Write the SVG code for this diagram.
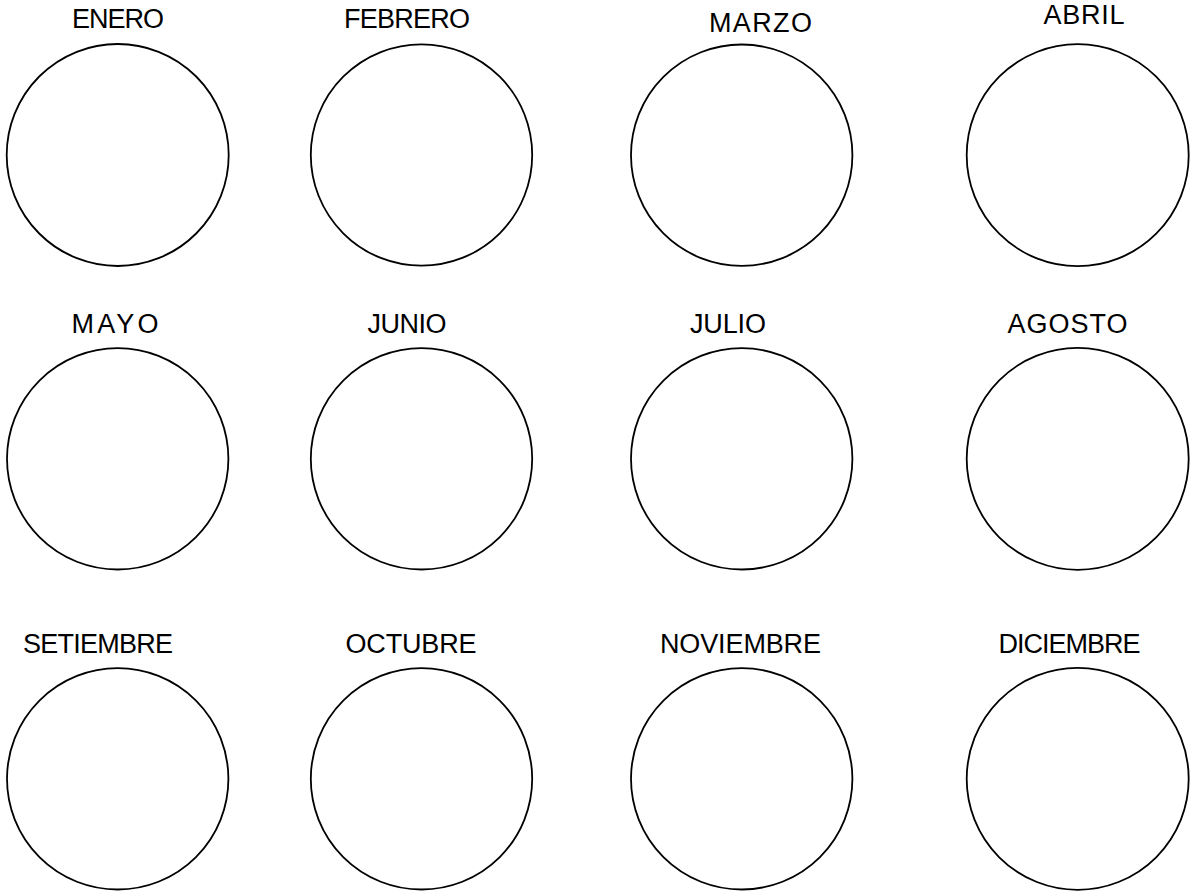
<svg xmlns="http://www.w3.org/2000/svg" width="1190" height="896" viewBox="0 0 1190 896">
<style>
.c{fill:#fff;stroke:#000;stroke-width:1.8}
.t{font-family:"Liberation Sans",Arial,sans-serif;font-size:27px;fill:#000}
</style>
<rect width="1190" height="896" fill="#fff"/>
<g id="enero"><circle class="c" cx="117.7" cy="155" r="111"/><text class="t" x="72" y="28.3" textLength="92" lengthAdjust="spacing">ENERO</text></g>
<g id="febrero"><circle class="c" cx="421.5" cy="155" r="110.7"/><text class="t" x="344" y="28.3" textLength="126" lengthAdjust="spacing">FEBRERO</text></g>
<g id="marzo"><circle class="c" cx="741.7" cy="155.2" r="110.7"/><text class="t" x="709" y="32.3" textLength="103" lengthAdjust="spacing">MARZO</text></g>
<g id="abril"><circle class="c" cx="1077.7" cy="155.2" r="111"/><text class="t" x="1043.5" y="24" textLength="81" lengthAdjust="spacing">ABRIL</text></g>
<g id="mayo"><circle class="c" cx="117.7" cy="458.8" r="110.7"/><text class="t" x="71.5" y="333.3" textLength="87" lengthAdjust="spacing">MAYO</text></g>
<g id="junio"><circle class="c" cx="421.5" cy="458.8" r="110.7"/><text class="t" x="367.5" y="332.5" textLength="79" lengthAdjust="spacing">JUNIO</text></g>
<g id="julio"><circle class="c" cx="741.7" cy="458.8" r="110.7"/><text class="t" x="690" y="332.5" textLength="76" lengthAdjust="spacing">JULIO</text></g>
<g id="agosto"><circle class="c" cx="1077.7" cy="458.8" r="111"/><text class="t" x="1007.5" y="333.3" textLength="120" lengthAdjust="spacing">AGOSTO</text></g>
<g id="setiembre"><circle class="c" cx="117.7" cy="778.8" r="110.7"/><text class="t" x="23" y="653.3" textLength="150" lengthAdjust="spacing">SETIEMBRE</text></g>
<g id="octubre"><circle class="c" cx="421.5" cy="778.8" r="110.7"/><text class="t" x="345.5" y="653.3" textLength="131" lengthAdjust="spacing">OCTUBRE</text></g>
<g id="noviembre"><circle class="c" cx="741.7" cy="778.8" r="110.7"/><text class="t" x="660" y="653.3" textLength="161" lengthAdjust="spacing">NOVIEMBRE</text></g>
<g id="diciembre"><circle class="c" cx="1077.7" cy="778.8" r="111"/><text class="t" x="998.5" y="653.3" textLength="142" lengthAdjust="spacing">DICIEMBRE</text></g>
<g id="connectors"></g>
</svg>
